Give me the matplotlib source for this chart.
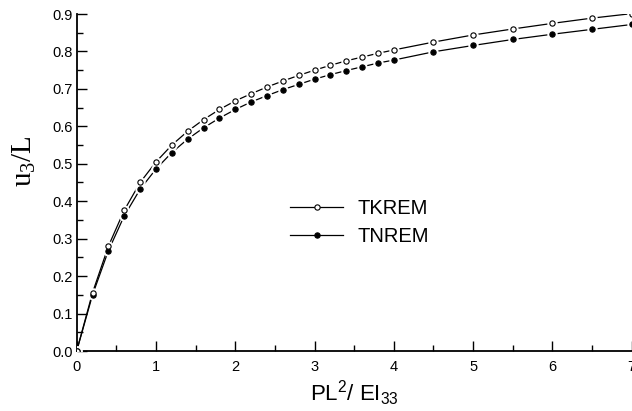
import numpy as np
import matplotlib
matplotlib.use("Agg")
import matplotlib.pyplot as plt
from matplotlib.ticker import MultipleLocator, FormatStrFormatter

plt.rcParams['font.family'] = ['Liberation Sans', 'DejaVu Sans']
plt.rcParams['mathtext.default'] = 'regular'

# load parameter PL^2/EI33
load = [0, 0.2, 0.4, 0.6, 0.8, 1.0, 1.2, 1.4, 1.6, 1.8, 2.0, 2.2, 2.4, 2.6, 2.8,
        3.0, 3.2, 3.4, 3.6, 3.8, 4.0, 4.5, 5.0, 5.5, 6.0, 6.5, 7.0]
# u3/L for the two models
tkrem = [0, 0.156, 0.280, 0.376, 0.450, 0.505, 0.550, 0.587, 0.618, 0.645, 0.668,
         0.687, 0.705, 0.721, 0.736, 0.750, 0.763, 0.775, 0.785, 0.795, 0.804,
         0.825, 0.844, 0.860, 0.875, 0.889, 0.901]
tnrem = [0, 0.150, 0.268, 0.361, 0.432, 0.486, 0.530, 0.566, 0.596, 0.622, 0.645,
         0.665, 0.682, 0.698, 0.712, 0.726, 0.738, 0.749, 0.759, 0.769, 0.777,
         0.799, 0.816, 0.832, 0.846, 0.859, 0.872]

fig = plt.figure(figsize=(6.32, 4.11), dpi=100)
ax = fig.add_axes([76.7 / 632, 60 / 411, 555 / 632, 337 / 411])

# lines first, then white halo so the line stops short of each marker
for y in [tnrem, tkrem]:
    ax.plot(load, y, color='black', lw=0.9, zorder=2)
for y, fc in [(tnrem, 'black'), (tkrem, 'white')]:
    ax.plot(load, y, ls='none', marker='o', ms=6.5, mfc='white', mec='white', zorder=3)
    ax.plot(load, y, ls='none', marker='o', ms=3.8, mfc=fc, mec='black', mew=0.8, zorder=4)

# legend handles (line - marker - line)
h1, = ax.plot([], [], color='black', lw=0.9, marker='o', ms=3.8, mfc='white', mec='black', mew=0.8)
h2, = ax.plot([], [], color='black', lw=0.9, marker='o', ms=3.8, mfc='black', mec='black', mew=0.8)
ax.legend([h1, h2], ['TKREM', 'TNREM'], loc='center left', bbox_to_anchor=(0.367, 0.382),
          frameon=False, fontsize=14.5, handlelength=2.6, handletextpad=0.75, labelspacing=0.45,
          borderpad=0)

ax.set_xlim(0, 7)
ax.set_ylim(0, 0.9)
ax.xaxis.set_major_locator(MultipleLocator(1))
ax.xaxis.set_minor_locator(MultipleLocator(0.5))
ax.yaxis.set_major_locator(MultipleLocator(0.1))
ax.yaxis.set_minor_locator(MultipleLocator(0.05))
ax.yaxis.set_major_formatter(FormatStrFormatter('%.1f'))
ax.tick_params(which='major', direction='in', length=7, width=1.0, labelsize=10.5)
ax.tick_params(axis='x', which='major', pad=6.5)
ax.tick_params(axis='y', which='major', pad=2.5)
ax.tick_params(which='minor', direction='in', length=4, width=1.0)
for s in ['top', 'right']:
    ax.spines[s].set_visible(False)
for s in ['left', 'bottom']:
    ax.spines[s].set_linewidth(1.3)

ax.set_xlabel('PL$^2$/ EI$_{33}$', fontsize=16, va='top')
ax.xaxis.set_label_coords(0.5, -0.083)
ax.set_ylabel('u$_3$/L', fontsize=21, family=['Liberation Serif', 'DejaVu Serif'], va='center')
ax.yaxis.set_label_coords(-0.095, 0.564)

fig.savefig('out.png', dpi=100)
